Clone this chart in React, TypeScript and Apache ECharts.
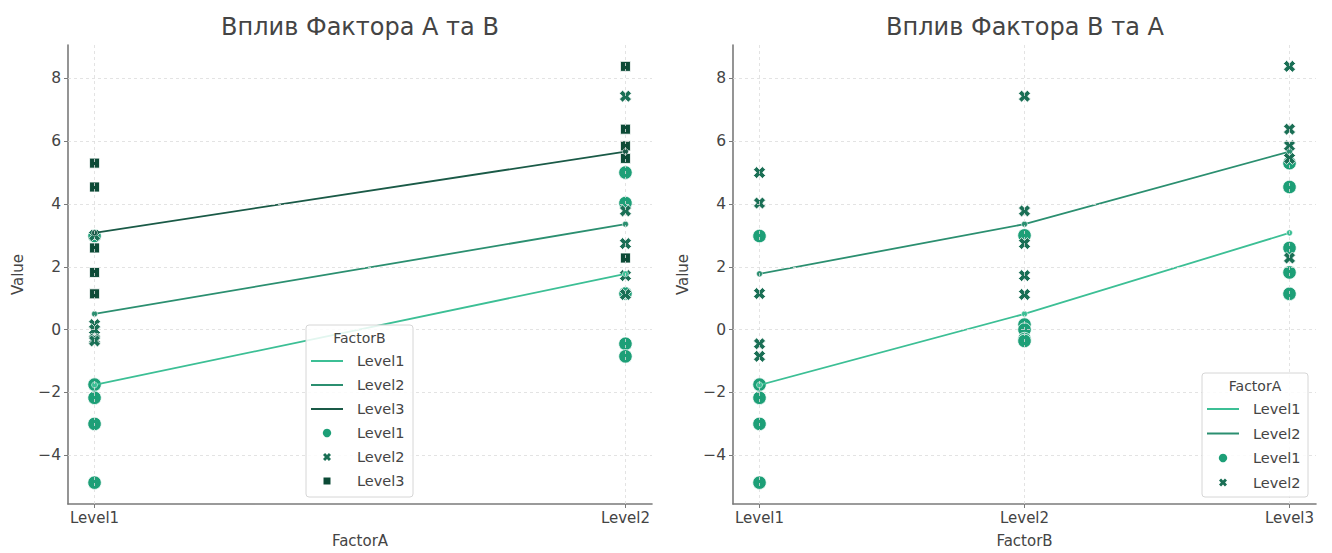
import React, { useEffect, useRef } from "react";
import * as echarts from "echarts";

const factorALevels = ["Level1", "Level2"];
const factorBLevels = ["Level1", "Level2", "Level3"];
const yTicks = [-4, -2, 0, 2, 4, 6, 8];

// values per cell (FactorA level, FactorB level)
const a1b1 = [2.98, -1.75, -2.17, -3.0, -4.87];
const a1b2 = [3.0, 0.16, 0.0, -0.3, -0.36];
const a1b3 = [5.3, 4.54, 2.6, 1.82, 1.14];
const a2b1 = [5.0, 4.03, 1.15, -0.45, -0.85];
const a2b2 = [7.43, 3.78, 2.74, 1.72, 1.12];
const a2b3 = [8.38, 6.38, 5.85, 5.45, 2.28];

const values = [
  [a1b1, a1b2, a1b3],
  [a2b1, a2b2, a2b3],
];

const markerColors = ["#1d9f77", "#1a6f55", "#0c4a36"];
const lineColors = ["#3cbf95", "#2b8f70", "#1a5a47"];
const X_PTS = [
  [0, 2.6], [2.6, 0], [5, 2.4], [7.4, 0], [10, 2.6], [7.6, 5], [10, 7.4], [7.4, 10], [5, 7.6], [2.6, 10], [0, 7.4], [2.4, 5],
];
const X_PATH =
  "path://" + X_PTS.map(([x, y], i) => (i === 0 ? "M" : "L") + x + "," + y).join("") + "Z";
const symbols = ["circle", X_PATH, "rect"];
const symbolSizes = [13.5, 12, 10];
const FONT = "DejaVu Sans";
const AXIS_COLOR = "#7a7a7a";
const TEXT_COLOR = "#444";

function mean(a: number[]) {
  return a.reduce((s, v) => s + v, 0) / a.length;
}

function fmt(v: number) {
  return v < 0 ? "\u2212" + Math.abs(v) : String(v);
}

function xPoly(cx: number, cy: number, s: number) {
  return X_PTS.map(([px, py]) => [cx + ((px - 5) / 10) * s, cy + ((py - 5) / 10) * s]);
}

function legendGraphic(
  x: number,
  y: number,
  w: number,
  h: number,
  title: string,
  levels: string[],
  nLines: number,
  lineY0: number,
  step: number
) {
  const children: any[] = [];
  children.push({
    type: "rect",
    shape: { x, y, width: w, height: h, r: 3 },
    style: { fill: "rgba(255,255,255,0.85)", stroke: "#d6d6d6", lineWidth: 1 },
    z: 100,
  });
  children.push({
    type: "text",
    x: x + w / 2,
    y: y + 13,
    style: { text: title, font: `14px ${FONT}`, fill: TEXT_COLOR, align: "center", verticalAlign: "middle", textAlign: "center", textVerticalAlign: "middle" },
    z: 101,
  });
  const lx1 = x + 5;
  const lx2 = x + 37;
  const tx = x + 51;
  const mx = x + 21;
  for (let i = 0; i < nLines; i++) {
    const yy = lineY0 + i * step;
    children.push({
      type: "line",
      shape: { x1: lx1, y1: yy, x2: lx2, y2: yy },
      style: { stroke: lineColors[i], lineWidth: 2 },
      z: 101,
    });
    children.push({
      type: "text",
      x: tx,
      y: yy,
      style: { text: levels[i], font: `14.5px ${FONT}`, fill: TEXT_COLOR, align: "left", verticalAlign: "middle", textAlign: "left", textVerticalAlign: "middle" },
      z: 101,
    });
  }
  for (let i = 0; i < nLines; i++) {
    const yy = lineY0 + (nLines + i) * step;
    if (i === 0) {
      children.push({ type: "circle", shape: { cx: mx, cy: yy, r: 4.2 }, style: { fill: markerColors[0] }, z: 101 });
    } else if (i === 1) {
      children.push({ type: "polygon", shape: { points: xPoly(mx, yy, 8) }, style: { fill: markerColors[1] }, z: 101 });
    } else {
      children.push({ type: "rect", shape: { x: mx - 3.5, y: yy - 3.5, width: 7, height: 7 }, style: { fill: markerColors[2] }, z: 101 });
    }
    children.push({
      type: "text",
      x: tx,
      y: yy,
      style: { text: levels[i], font: `14.5px ${FONT}`, fill: TEXT_COLOR, align: "left", verticalAlign: "middle", textAlign: "left", textVerticalAlign: "middle" },
      z: 101,
    });
  }
  return { type: "group", children };
}

function gridLineSeries(idx: number, nCats: number) {
  return {
    type: "scatter",
    xAxisIndex: idx,
    yAxisIndex: idx,
    data: [[0, 0]],
    symbolSize: 0,
    itemStyle: { opacity: 0 },
    silent: true,
    z: 0,
    markLine: {
      silent: true,
      symbol: ["none", "none"],
      label: { show: false },
      lineStyle: { color: "#dcdcdc", type: [3, 3], width: 0.8 },
      data: [
        ...yTicks.map((v) => ({ yAxis: v })),
        ...Array.from({ length: nCats }, (_, i) => ({ xAxis: i })),
      ],
    },
  };
}

function xAxisDef(idx: number, levels: string[], name: string, margin: number) {
  const n = levels.length - 1;
  const custom = levels.map((_, i) => i);
  return {
    type: "value",
    gridIndex: idx,
    min: -margin,
    max: n + margin,
    name,
    nameLocation: "middle",
    nameGap: 29,
    nameTextStyle: { color: TEXT_COLOR, fontSize: 15, fontFamily: FONT },
    axisLine: { show: true, onZero: false, lineStyle: { color: AXIS_COLOR, width: 1.6 } },
    axisTick: { show: true, customValues: custom, length: 4, lineStyle: { color: AXIS_COLOR, width: 1 } },
    axisLabel: {
      show: true,
      customValues: custom,
      formatter: (v: number) => levels[Math.round(v)] ?? "",
      color: TEXT_COLOR,
      fontSize: 15,
      fontFamily: FONT,
      margin: 6,
    },
    splitLine: { show: false },
  };
}

function yAxisDef(idx: number) {
  return {
    type: "value",
    gridIndex: idx,
    min: -5.55,
    max: 9.06,
    name: "Value",
    nameLocation: "middle",
    nameGap: 43,
    nameTextStyle: { color: TEXT_COLOR, fontSize: 15, fontFamily: FONT },
    axisLine: { show: true, onZero: false, lineStyle: { color: AXIS_COLOR, width: 1.6 } },
    axisTick: { show: true, customValues: yTicks, length: 4, lineStyle: { color: AXIS_COLOR, width: 1 } },
    axisLabel: {
      show: true,
      customValues: yTicks,
      formatter: (v: number) => fmt(v),
      color: TEXT_COLOR,
      fontSize: 15.5,
      fontFamily: FONT,
      margin: 7,
    },
    splitLine: { show: false },
  };
}

export default function App() {
  const ref = useRef<HTMLDivElement>(null);
  useEffect(() => {
    if (!ref.current) return;
    const chart = echarts.init(ref.current, null, { renderer: "svg" });
    const series: any[] = [gridLineSeries(0, factorALevels.length), gridLineSeries(1, factorBLevels.length)];

    // Left: x = FactorA, hue = FactorB
    factorBLevels.forEach((lvl, b) => {
      series.push({
        type: "scatter",
        name: "sB" + lvl,
        xAxisIndex: 0,
        yAxisIndex: 0,
        symbol: symbols[b],
        symbolSize: symbolSizes[b],
        itemStyle: { color: markerColors[b], borderColor: "#fff", borderWidth: 0.8, opacity: 1 },
        z: 2,
        data: factorALevels.flatMap((_, a) => values[a][b].map((v) => [a, v])),
      });
    });
    factorBLevels.forEach((lvl, b) => {
      series.push({
        type: "line",
        name: "lB" + lvl,
        xAxisIndex: 0,
        yAxisIndex: 0,
        symbol: "circle",
        symbolSize: 6,
        showSymbol: true,
        lineStyle: { color: lineColors[b], width: 1.8 },
        itemStyle: { color: lineColors[b], borderColor: "#fff", borderWidth: 0.5, opacity: 1 },
        z: 3,
        data: factorALevels.map((_, a) => [a, mean(values[a][b])]),
      });
    });

    // Right: x = FactorB, hue = FactorA
    factorALevels.forEach((lvl, a) => {
      series.push({
        type: "scatter",
        name: "sA" + lvl,
        xAxisIndex: 1,
        yAxisIndex: 1,
        symbol: symbols[a],
        symbolSize: symbolSizes[a],
        itemStyle: { color: markerColors[a], borderColor: "#fff", borderWidth: 0.8, opacity: 1 },
        z: 2,
        data: factorBLevels.flatMap((_, b) => values[a][b].map((v) => [b, v])),
      });
    });
    factorALevels.forEach((lvl, a) => {
      series.push({
        type: "line",
        name: "lA" + lvl,
        xAxisIndex: 1,
        yAxisIndex: 1,
        symbol: "circle",
        symbolSize: 6,
        showSymbol: true,
        lineStyle: { color: lineColors[a], width: 1.8 },
        itemStyle: { color: lineColors[a], borderColor: "#fff", borderWidth: 0.5, opacity: 1 },
        z: 3,
        data: factorBLevels.map((_, b) => [b, mean(values[a][b])]),
      });
    });

    chart.setOption({
      animation: false,
      backgroundColor: "#fff",
      textStyle: { fontFamily: FONT },
      grid: [
        { left: 68, top: 45, width: 584, height: 461, containLabel: false },
        { left: 733, top: 45, width: 583, height: 461, containLabel: false },
      ],
      xAxis: [xAxisDef(0, factorALevels, "FactorA", 0.05), xAxisDef(1, factorBLevels, "FactorB", 0.1)],
      yAxis: [yAxisDef(0), yAxisDef(1)],
      series,
      graphic: [
        {
          type: "text",
          x: 360,
          y: 27,
          style: { text: "Вплив Фактора А та В", font: `24px ${FONT}`, fill: TEXT_COLOR, align: "center", verticalAlign: "middle", textAlign: "center", textVerticalAlign: "middle" },
        },
        {
          type: "text",
          x: 1025,
          y: 27,
          style: { text: "Вплив Фактора В та А", font: `24px ${FONT}`, fill: TEXT_COLOR, align: "center", verticalAlign: "middle", textAlign: "center", textVerticalAlign: "middle" },
        },
        legendGraphic(306, 325, 107, 172, "FactorB", factorBLevels, 3, 361, 24),
        legendGraphic(1202, 373, 106, 124, "FactorA", factorALevels, 2, 409, 24.5),
      ],
    });
    return () => chart.dispose();
  }, []);
  return (
    <div
      ref={ref}
      style={{ position: "fixed", left: 0, top: 0, width: 1332, height: 553, background: "#fff" }}
    />
  );
}
